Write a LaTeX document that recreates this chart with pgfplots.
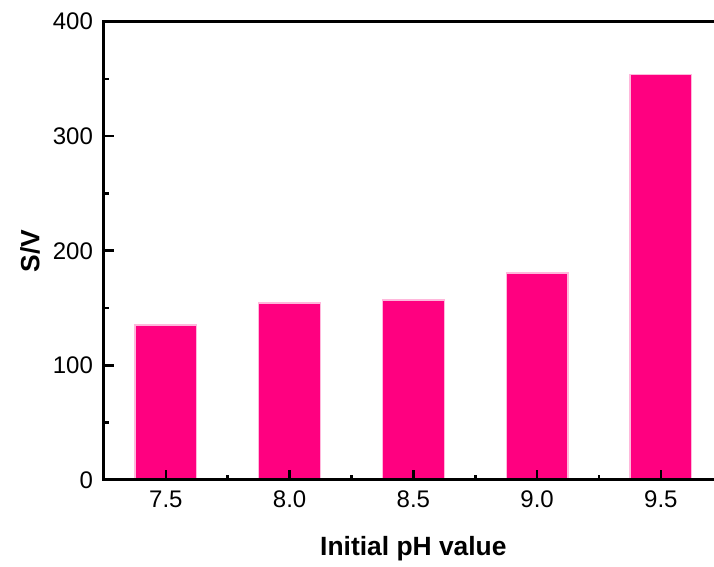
\documentclass[border=0pt]{standalone}
\usepackage{pgfplots}
\pgfplotsset{compat=1.18}
\usepackage{fontspec}
\setmainfont{Liberation Sans}
\definecolor{barpink}{HTML}{FF0080}
\definecolor{baredge}{HTML}{FFB8DC}

\begin{document}
\begin{tikzpicture}
  \begin{axis}[
    at={(0,0)}, anchor=south west,
    scale only axis,
    width=309.4pt, height=229.2pt,
    xmin=7.25, xmax=9.75,
    ymin=0, ymax=400,
    xtick={7.5,8.0,8.5,9.0,9.5},
    xticklabels={7.5,8.0,8.5,9.0,9.5},
    ytick={0,100,200,300,400},
    minor xtick={7.75,8.25,8.75,9.25},
    minor ytick={50,150,250,350},
    axis on top,
    tick align=inside,
    tick pos=left,
    major tick length=5pt,
    minor tick length=2.4pt,
    axis line style={line width=1.5pt},
    major tick style={black, line width=1.3pt},
    minor tick style={black, line width=1.3pt},
    tick label style={font=\fontsize{12}{14}\selectfont},
    /pgf/number format/assume math mode=true,
    xticklabel style={yshift=-2pt},
    yticklabel style={xshift=-2pt},
    xlabel={\textbf{Initial pH value}},
    ylabel={\textbf{S/V}},
    label style={font=\fontsize{13.2}{15}\selectfont},
    x label style={at={(axis description cs:0.5,0)}, anchor=center, yshift=-34.5pt},
    y label style={at={([xshift=-37pt]axis description cs:0,0.5)}, anchor=center},
  ]
    \addplot[ybar, bar width=0.25, fill=barpink, draw=baredge, line width=0.6pt] coordinates {
      (7.5,135.3)
      (8.0,154.5)
      (8.5,157.1)
      (9.0,180.7)
      (9.5,354.1)
    };
    % long tick marks, drawn over the bars
    \addplot[ycomb, black, line width=1.3pt, mark=none, forget plot] coordinates {
      (7.5,7.4) (8.0,7.4) (8.5,7.4) (9.0,7.4) (9.5,7.4)
    };
    \addplot[black, line width=1.3pt, mark=none, forget plot] coordinates {(7.25,100) (7.284,100)};
    \addplot[black, line width=1.3pt, mark=none, forget plot] coordinates {(7.25,200) (7.284,200)};
    \addplot[black, line width=1.3pt, mark=none, forget plot] coordinates {(7.25,300) (7.284,300)};
  \end{axis}
  \pgfresetboundingbox
  \useasboundingbox (-52pt,-43.5pt) rectangle (305pt,240pt);
\end{tikzpicture}
\end{document}
